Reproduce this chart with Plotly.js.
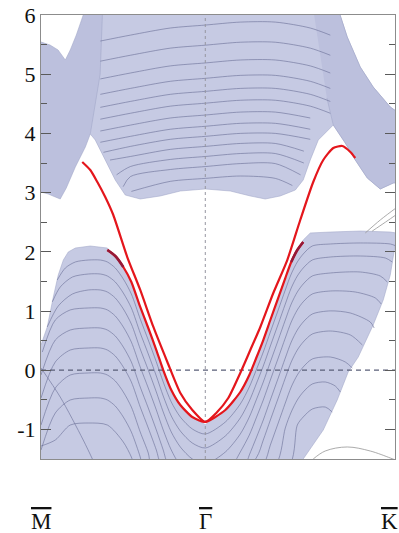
<!DOCTYPE html>
<html>
<head>
<meta charset="utf-8">
<script src="https://cdn.plot.ly/plotly-3.0.1.min.js"></script>
<style>
  html, body { margin: 0; padding: 0; background: #ffffff; }
  #chart { width: 399px; height: 533px; }
</style>
</head>
<body>
<div id="chart"></div>
<script>
// ---- k-path labels (M = -1, Gamma = 0, K = 2/sqrt(3)) ----
const kTickVals = [-1, 0, 1.1547];
const kTickText = ['<span style="text-decoration:overline">M</span>',
                   '<span style="text-decoration:overline">Γ</span>',
                   '<span style="text-decoration:overline">K</span>'];
const eTickVals = [-1, 0, 1, 2, 3, 4, 5, 6];
const eTickText = ['-1', '0', '1', '2', '3', '4', '5', '6'];
const eMinorTicks = [-1.5, -0.5, 0.5, 1.5, 2.5, 3.5, 4.5, 5.5];
const fermiLevel = 0;

// ---- projected bulk conduction band: left lobe + diagonal band ----
const condLeftK = [-1.05, -1.0, -0.945, -0.896, -0.852, -0.822, -0.785, -0.743, -0.743, -0.625, -0.64,
  -0.700, -0.730, -0.791, -0.846, -0.883, -0.913, -0.956, -1.0, -1.05];
const condLeftE = [5.544, 5.544, 5.493, 5.409, 5.240, 5.409, 5.662, 6.0, 6.1, 6.1, 5.0,
  3.990, 3.770, 3.432, 3.078, 2.892, 2.926, 2.976, 3.010, 3.010];

// ---- projected bulk conduction band: main part + right lobe ----
const condMainK = [-0.70, 0.809, 0.864, 0.943, 1.022, 1.126, 1.2, 1.2, 1.144, 1.065, 0.986, 0.913, 0.852, 0.779,
  0.688, 0.639, 0.596, 0.548, 0.456, 0.365, 0.274, 0.152, 0, -0.152, -0.274, -0.396, -0.487, -0.548, -0.609,
  -0.670, -0.700];
const condMainE = [6.1, 6.1, 5.628, 5.122, 4.784, 4.446, 4.30, 3.179, 3.162, 3.061, 3.247, 3.551, 3.838, 4.142,
  3.889, 3.551, 3.213, 3.044, 2.943, 2.892, 2.943, 3.027, 3.061, 3.027, 2.943, 2.892, 2.959, 3.213, 3.551,
  3.889, 3.990];

// ---- right lobe (denser projected states) ----
const condRightK = [0.657, 0.809, 0.864, 0.943, 1.022, 1.126, 1.2, 1.2, 1.144, 1.065, 0.986, 0.913, 0.852, 0.779, 0.74];
const condRightE = [6.1, 6.1, 5.628, 5.122, 4.784, 4.446, 4.30, 3.179, 3.162, 3.061, 3.247, 3.551, 3.838, 4.142, 4.6];

// ---- projected bulk valence band (boundary) ----
const valK = [-1.05, -1.05, -1.0, -0.962, -0.925, -0.895, -0.864, -0.834, -0.791, -0.700, -0.596, -0.548, -0.499,
  -0.450, -0.396, -0.347, -0.298, -0.256, -0.207, -0.152, -0.079, 0, 0.122, 0.213, 0.268, 0.310, 0.353, 0.396,
  0.444, 0.487, 0.523, 0.560, 0.596, 0.639, 0.761, 0.943, 1.126, 1.2, 1.2, 1.156, 1.126, 1.083, 1.022, 0.931,
  0.870, 0.803, 0.718, 0.596, 0.566];
const valE = [-1.7, 0.426, 0.426, 0.730, 1.236, 1.608, 1.861, 1.997, 2.064, 2.098, 2.064, 1.929, 1.743,
  1.490, 1.068, 0.713, 0.341, 0.003, -0.334, -0.588, -0.791, -0.92, -0.672, -0.368, -0.081, 0.206, 0.510, 0.848,
  1.220, 1.557, 1.828, 2.030, 2.199, 2.318, 2.334, 2.351, 2.334, 2.30, 2.10, 2.115, 1.608, 1.186, 0.764, 0.223,
  -0.030, -0.503, -1.01, -1.5, -1.7];

// ---- slab subbands inside the conduction continuum ----
const condSubK = [
  [-0.639, -0.456, -0.213, 0, 0.213, 0.426, 0.639, 0.761],
  [-0.639, -0.456, -0.213, 0, 0.213, 0.426, 0.639, 0.761],
  [-0.639, -0.456, -0.213, 0, 0.213, 0.426, 0.639, 0.761],
  [-0.639, -0.456, -0.213, 0, 0.213, 0.426, 0.639, 0.761],
  [-0.639, -0.456, -0.213, 0, 0.213, 0.426, 0.639, 0.761],
  [-0.639, -0.456, -0.213, 0, 0.213, 0.426, 0.639, 0.761],
  [-0.639, -0.456, -0.213, 0, 0.213, 0.426, 0.639],
  [-0.639, -0.456, -0.213, 0, 0.213, 0.426, 0.639],
  [-0.62, -0.456, -0.213, 0, 0.213, 0.426, 0.639],
  [-0.58, -0.456, -0.213, 0, 0.213, 0.426, 0.60],
  [-0.54, -0.456, -0.213, 0, 0.213, 0.426, 0.60],
  [-0.50, -0.456, -0.213, 0, 0.213, 0.426, 0.58],
  [-0.45, -0.213, 0, 0.213, 0.426, 0.53]
];
const condSubE = [
  [5.56, 5.66, 5.78, 5.83, 5.88, 5.88, 5.78, 5.66],
  [5.22, 5.32, 5.44, 5.49, 5.54, 5.54, 5.44, 5.32],
  [4.92, 5.02, 5.14, 5.19, 5.24, 5.24, 5.14, 5.02],
  [4.66, 4.76, 4.88, 4.93, 4.98, 4.98, 4.88, 4.76],
  [4.44, 4.54, 4.66, 4.71, 4.76, 4.76, 4.66, 4.54],
  [4.24, 4.34, 4.46, 4.51, 4.56, 4.56, 4.46, 4.34],
  [4.04, 4.14, 4.26, 4.31, 4.36, 4.36, 4.26],
  [3.85, 3.95, 4.07, 4.12, 4.17, 4.17, 4.07],
  [3.68, 3.78, 3.90, 3.95, 4.00, 4.00, 3.90],
  [3.55, 3.61, 3.73, 3.78, 3.83, 3.83, 3.70],
  [3.30, 3.44, 3.56, 3.61, 3.66, 3.66, 3.50],
  [3.10, 3.27, 3.39, 3.44, 3.49, 3.49, 3.30],
  [3.02, 3.19, 3.24, 3.28, 3.24, 3.12]
];

// ---- slab subbands inside the valence continuum ----
const valSubK = [
  [-0.901,-0.852,-0.791,-0.712,-0.639,-0.596,-0.548,-0.499,-0.450,-0.396,-0.347,-0.298,-0.256,-0.207,-0.152,-0.079,0,0.122,0.213,0.268,0.310,0.353,0.396,0.444,0.487,0.523,0.560,0.596,0.651,0.761,0.943,1.126,1.162],
  [-0.931,-0.883,-0.809,-0.712,-0.639,-0.596,-0.548,-0.499,-0.450,-0.396,-0.347,-0.298,-0.256,-0.207,-0.152,-0.079,0,0.122,0.213,0.268,0.310,0.353,0.396,0.444,0.487,0.523,0.560,0.596,0.651,0.761,0.943,1.096,1.138],
  [-0.962,-0.895,-0.809,-0.712,-0.639,-0.596,-0.548,-0.499,-0.450,-0.396,-0.347,-0.298,-0.256,-0.207,-0.152,-0.079,0,0.122,0.213,0.268,0.310,0.353,0.396,0.444,0.487,0.523,0.560,0.596,0.651,0.761,0.943,1.065,1.108],
  [-0.992,-0.913,-0.822,-0.712,-0.639,-0.596,-0.548,-0.499,-0.450,-0.396,-0.347,-0.298,-0.256,-0.207,-0.152,0,0.164,0.213,0.268,0.310,0.353,0.396,0.444,0.487,0.523,0.560,0.596,0.651,0.761,0.913,1.035,1.071],
  [-1.0,-0.913,-0.822,-0.712,-0.639,-0.596,-0.548,-0.499,-0.450,-0.396,-0.347,-0.298,-0.256,-0.225,0,0.243,0.268,0.310,0.353,0.396,0.444,0.487,0.523,0.560,0.596,0.651,0.761,0.883,1.004,1.028],
  [-1.0,-0.913,-0.822,-0.712,-0.639,-0.596,-0.548,-0.499,-0.450,-0.396,-0.347,-0.298,-0.268,0,0.310,0.353,0.396,0.444,0.487,0.523,0.560,0.596,0.651,0.761,0.883,0.956],
  [-1.0,-0.913,-0.822,-0.712,-0.639,-0.596,-0.548,-0.499,-0.450,-0.396,-0.347,-0.329,0,0.353,0.396,0.444,0.487,0.523,0.560,0.596,0.651,0.761,0.852,0.895],
  [-1.0,-0.913,-0.822,-0.712,-0.639,-0.596,-0.548,-0.499,-0.450,-0.396,-0.383,0,0.432,0.487,0.523,0.560,0.596,0.651,0.730,0.791,0.822],
  [-1.0,-0.913,-0.822,-0.712,-0.596,-0.499,-0.450,-0.432,0,0.517,0.560,0.596,0.651,0.730,0.773],
  [-1.0,-0.883,-0.743,-0.670]
];
const valSubE = [
  [1.524,1.726,1.828,1.861,1.861,1.828,1.726,1.541,1.287,0.865,0.510,0.139,-0.199,-0.537,-0.791,-0.993,-1.078,-0.875,-0.571,-0.284,0.003,0.307,0.645,1.018,1.355,1.625,1.828,1.963,2.098,2.132,2.149,2.132,2.098],
  [1.155,1.405,1.574,1.625,1.625,1.591,1.490,1.304,1.051,0.628,0.274,-0.098,-0.436,-0.774,-1.027,-1.230,-1.314,-1.111,-0.807,-0.520,-0.233,0.071,0.409,0.780,1.118,1.389,1.591,1.726,1.861,1.912,1.929,1.895,1.828],
  [0.730,1.085,1.287,1.355,1.355,1.321,1.220,1.035,0.780,0.358,0.003,-0.368,-0.706,-1.044,-1.297,-1.500,-1.584,-1.382,-1.078,-0.791,-0.503,-0.199,0.139,0.510,0.848,1.118,1.321,1.456,1.591,1.642,1.659,1.591,1.490],
  [0.307,0.848,1.018,1.051,1.051,1.018,0.916,0.730,0.476,0.054,-0.301,-0.672,-1.010,-1.348,-1.601,-1.89,-1.601,-1.382,-1.095,-0.807,-0.503,-0.166,0.206,0.544,0.814,1.018,1.155,1.287,1.338,1.321,1.220,1.118],
  [-0.081,0.510,0.679,0.713,0.713,0.679,0.578,0.392,0.139,-0.284,-0.639,-1.010,-1.348,-1.601,-2.19,-1.601,-1.432,-1.145,-0.841,-0.503,-0.132,0.206,0.476,0.679,0.814,0.949,1.002,0.966,0.814,0.713],
  [-0.470,0.139,0.341,0.375,0.375,0.341,0.240,0.054,-0.199,-0.622,-0.976,-1.348,-1.601,-2.36,-1.483,-1.179,-0.841,-0.470,-0.132,0.139,0.341,0.476,0.611,0.662,0.595,0.426],
  [-0.926,-0.301,-0.081,-0.047,-0.047,-0.081,-0.182,-0.368,-0.622,-1.044,-1.399,-1.601,-2.53,-1.601,-1.264,-0.892,-0.554,-0.284,-0.081,0.054,0.189,0.223,0.139,0.037],
  [-1.348,-0.723,-0.503,-0.470,-0.470,-0.503,-0.605,-0.791,-1.044,-1.466,-1.601,-2.87,-1.601,-0.976,-0.706,-0.503,-0.368,-0.233,-0.199,-0.267,-0.368],
  [-1.281,-1.179,-0.926,-0.892,-0.926,-1.213,-1.466,-1.601,-3.2,-1.601,-0.926,-0.791,-0.656,-0.622,-0.706],
  [0.037,-0.453,-1.179,-1.601]
];

// ---- faint lines outside the continua ----
const faintK = [
  [0.974, 1.065, 1.169],
  [1.016, 1.096, 1.169],
  [0.657, 0.730, 0.864, 1.004, 1.126, 1.16]
];
const faintE = [
  [2.318, 2.537, 2.757],
  [2.35, 2.50, 2.64],
  [-1.5, -1.365, -1.297, -1.365, -1.483, -1.52]
];

// ---- topological surface states (red) ----
const surfAK = [-0.749, -0.700, -0.657, -0.609, -0.560, -0.475, -0.396, -0.316, -0.231, -0.152, -0.079, 0,
  0.067, 0.140, 0.213, 0.274, 0.335, 0.414, 0.499, 0.578, 0.657, 0.718, 0.779, 0.834, 0.883, 0.913];
const surfAE = [3.517, 3.382, 3.179, 2.926, 2.622, 1.912, 1.355, 0.730, 0.139, -0.385, -0.672, -0.875,
  -0.723, -0.470, -0.047, 0.341, 0.730, 1.304, 1.861, 2.537, 3.179, 3.551, 3.753, 3.787, 3.686, 3.585];
const surfBK = [-0.596, -0.548, -0.499, -0.450, -0.396, -0.347, -0.298, -0.256, -0.207, -0.152, -0.079, 0,
  0.122, 0.213, 0.268, 0.310, 0.353, 0.396, 0.444, 0.487, 0.523, 0.560, 0.596];
const surfBE = [2.030, 1.929, 1.743, 1.490, 1.068, 0.713, 0.341, 0.003, -0.334, -0.588, -0.791, -0.875,
  -0.672, -0.368, -0.081, 0.206, 0.510, 0.848, 1.220, 1.557, 1.828, 2.030, 2.166];
const resLeftK = [-0.596, -0.548, -0.499];
const resLeftE = [2.030, 1.929, 1.743];
const resRightK = [0.523, 0.560, 0.596];
const resRightE = [1.828, 2.030, 2.166];

// ---------------- build traces ----------------
const FILL = 'rgb(198,202,227)';
const FILL_DENSE = 'rgb(188,192,221)';
const EDGE = 'rgba(160,165,200,0.9)';
const SUB = 'rgba(105,110,150,0.6)';
const traces = [];
function region(k, e, color) {
  traces.push({x: k, y: e, mode: 'lines', fill: 'toself', fillcolor: color,
    line: {color: EDGE, width: 0.6, simplify: false}, hoverinfo: 'skip'});
}
region(condMainK, condMainE, FILL);
region(condRightK, condRightE, FILL_DENSE);
region(condLeftK, condLeftE, FILL_DENSE);
region(valK, valE, FILL);
condSubK.forEach((k, i) => traces.push({x: k, y: condSubE[i], mode: 'lines',
  line: {color: SUB, width: 1, shape: 'spline', smoothing: 0.8}, hoverinfo: 'skip'}));
valSubK.forEach((k, i) => traces.push({x: k, y: valSubE[i], mode: 'lines',
  line: {color: SUB, width: 1, shape: 'spline', smoothing: 0.8}, hoverinfo: 'skip'}));
faintK.forEach((k, i) => traces.push({x: k, y: faintE[i], mode: 'lines',
  line: {color: 'rgba(150,150,150,0.8)', width: 1, shape: 'spline'}, hoverinfo: 'skip'}));
// Fermi level (dashed) and Gamma line (dotted)
traces.push({x: [kTickVals[0], kTickVals[2]], y: [fermiLevel, fermiLevel], mode: 'lines',
  line: {color: 'rgb(90,95,120)', width: 1.2, dash: '5px,4px'}, hoverinfo: 'skip'});
traces.push({x: [kTickVals[1], kTickVals[1]], y: [-1.5, 6], mode: 'lines',
  line: {color: 'rgb(150,150,160)', width: 1, dash: 'dot'}, hoverinfo: 'skip'});
// surface states
traces.push({x: surfBK, y: surfBE, mode: 'lines',
  line: {color: 'rgb(228,22,28)', width: 2.2, shape: 'spline', smoothing: 0.6}, hoverinfo: 'skip'});
traces.push({x: surfAK, y: surfAE, mode: 'lines',
  line: {color: 'rgb(228,22,28)', width: 2.2, shape: 'spline', smoothing: 0.6}, hoverinfo: 'skip'});
traces.push({x: resLeftK, y: resLeftE, mode: 'lines',
  line: {color: 'rgb(150,25,55)', width: 2.6, shape: 'spline'}, hoverinfo: 'skip'});
traces.push({x: resRightK, y: resRightE, mode: 'lines',
  line: {color: 'rgb(150,25,55)', width: 2.6, shape: 'spline'}, hoverinfo: 'skip'});

const serif = 'Liberation Serif';
// high-symmetry point labels, placed on the k axis
const kLabelShift = [0, 0, -6];
const annotations = kTickVals.map((k, i) => ({
  x: k, xref: 'x', y: -0.14, yref: 'paper', yanchor: 'middle', xanchor: 'center',
  xshift: kLabelShift[i], showarrow: false, text: kTickText[i],
  font: {family: serif, size: 23, color: '#111'}
}));

const layout = {
  width: 399, height: 533,
  margin: {l: 41, r: 4, t: 15, b: 74},
  paper_bgcolor: '#ffffff', plot_bgcolor: '#ffffff',
  showlegend: false,
  annotations: annotations,
  xaxis: {
    range: [kTickVals[0], kTickVals[2]],
    showticklabels: false,
    ticks: '', showgrid: false, zeroline: false,
    showline: true, linecolor: 'rgb(140,140,140)', linewidth: 1, mirror: true
  },
  yaxis: {
    range: [-1.5, 6],
    tickvals: eTickVals, ticktext: eTickText,
    ticks: 'inside', ticklen: 10, tickwidth: 1, tickcolor: 'rgb(90,90,90)',
    minor: {tickvals: eMinorTicks, ticks: 'inside', ticklen: 6, tickcolor: 'rgb(90,90,90)'},
    showgrid: false, zeroline: false,
    showline: true, linecolor: 'rgb(140,140,140)', linewidth: 1, mirror: 'ticks',
    tickfont: {family: serif, size: 22, color: '#111'}
  }
};
Plotly.newPlot('chart', traces, layout, {displayModeBar: false, staticPlot: true});
</script>
</body>
</html>
